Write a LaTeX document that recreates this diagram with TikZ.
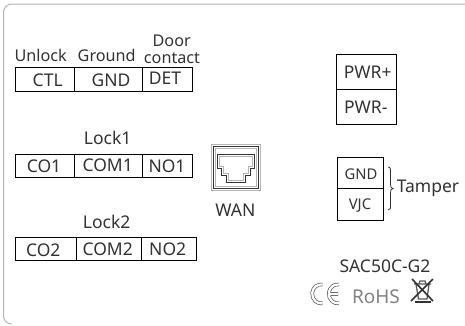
\documentclass[tikz,border=0pt]{standalone}
\usepackage{fontspec}
\setmainfont{Noto Sans}
\definecolor{txt}{HTML}{333333}
\definecolor{frameg}{HTML}{B4B4B4}
\definecolor{logog}{HTML}{5A5A5A}
\tikzset{
  lbl/.style={anchor=base,inner sep=0pt,text=txt,font=\fontsize{17.5}{17.5}\selectfont},
  toplbl/.style={lbl,font=\fontsize{16.2}{16.2}\selectfont},
  smalllbl/.style={lbl,font=\fontsize{14.8}{14.8}\selectfont},
  cell/.style={draw=black,line width=0.8pt},
  jack/.style={draw=#1,line width=0.7pt,line join=miter},
}
\begin{document}
\begin{tikzpicture}[x=1pt,y=-1pt]
\useasboundingbox (0,0) rectangle (465,325);
\fill[white] (0,0) rectangle (465,325);
% outer frame
\draw[frameg,line width=1pt] (465,4) -- (12,4) arc[start angle=-90,end angle=-180,radius=8.5] -- (3.5,316) arc[start angle=180,end angle=90,radius=8];
% terminal rows
\draw[cell] (15.5,67.5) rectangle (74.5,91) (74.5,67.5) rectangle (142.5,91) (142.5,67.5) rectangle (192.5,91);
\draw[cell] (15.5,154) rectangle (74.5,177) (74.5,154) rectangle (142.5,177) (142.5,154) rectangle (192.5,177);
\draw[cell] (15.5,237) rectangle (76.5,260) (76.5,237) rectangle (141.5,260) (141.5,237) rectangle (196.5,260);
\draw[cell] (336.5,54.5) rectangle (396.5,89) (336.5,89) rectangle (396.5,124);
\draw[cell] (337.5,157.5) rectangle (383.5,188) (337.5,188) rectangle (383.5,220);
% labels
\node[toplbl] (unlock) at (40.7,61) {Unlock};
\node[toplbl] (ground) at (106.7,61) {Ground};
\node[toplbl] (door) at (171.7,46) {Door};
\node[toplbl] (contact) at (172,63.3) {contact};
\node[lbl] (ctl) at (47.7,86) {CTL};
\node[lbl] (gnda) at (111,86) {GND};
\node[lbl] (det) at (165,84.3) {DET};
\node[lbl] (lockone) at (107.7,144) {Lock1};
\node[lbl] (coone) at (44,172.7) {CO1};
\node[lbl] (comone) at (107.7,171.7) {COM1};
\node[lbl] (noone) at (167,172) {NO1};
\node[lbl] (locktwo) at (106.7,228.3) {Lock2};
\node[lbl] (cotwo) at (43.3,256.7) {CO2};
\node[lbl] (comtwo) at (107.7,255) {COM2};
\node[lbl] (notwo) at (167.7,255) {NO2};
\node[lbl] (wan) at (235.3,216.7) {WAN};
\node[lbl] (pwrp) at (367.7,78.3) {PWR+};
\node[lbl] (pwrm) at (365.7,113.3) {PWR-};
\node[smalllbl] (gndb) at (361,179.3) {GND};
\node[smalllbl] (vjc) at (360,209) {VJC};
\node[lbl] (tamper) at (428,192.7) {Tamper};
\node[lbl] (model) at (385,272.7) {SAC50C-G2};
% brace
\draw[txt,line width=0.8pt] (388,167) .. controls (391,167) and (390.5,170) .. (390.5,174) -- (390.5,184) .. controls (390.5,187) and (391,188.5) .. (393,188.5) .. controls (391,188.5) and (390.5,190) .. (390.5,193) -- (390.5,204) .. controls (390.5,208) and (391,210) .. (388,210);
% WAN jack
\draw[frameg,line width=1pt] (211.5,144.5) rectangle (260.5,190.5);
\draw[txt,line width=0.7pt] (213.5,146.5) rectangle (258.5,188.5);
\draw[frameg,line width=0.7pt] (215.5,148.5) rectangle (256.5,186.5);
\draw[jack=txt] (217,154) -- (254.5,154) -- (254.5,168) -- (250.5,168) -- (250.5,175) -- (245.5,175) -- (245.5,182.5) -- (226,182.5) -- (226,175) -- (221,175) -- (221,168) -- (217,168) -- cycle;
\draw[jack=frameg] (219,156) -- (252.5,156) -- (252.5,166) -- (248.5,166) -- (248.5,173) -- (243.5,173) -- (243.5,180.5) -- (228,180.5) -- (228,173) -- (223,173) -- (223,166) -- (219,166) -- cycle;
% CE mark
\draw[logog,line width=3.6pt] (322.4,284.5) arc[start angle=-82,end angle=-278,x radius=9,y radius=9.5];
\draw[white,line width=2.2pt] (322.4,284.5) arc[start angle=-82,end angle=-278,x radius=9,y radius=9.5];
\draw[logog,line width=3.6pt] (339,284.5) arc[start angle=-82,end angle=-278,x radius=9,y radius=9.5] (330,294) -- (338,294);
\draw[white,line width=2.2pt] (339,284.5) arc[start angle=-82,end angle=-278,x radius=9,y radius=9.5] (330,294) -- (338,294);
% RoHS
\node[anchor=base,inner sep=0pt,text=logog!75,font=\fontsize{19}{19}\selectfont\bfseries] (rohs) at (376,303) {RoHS};
% WEEE bin
\draw[logog,line width=1.3pt] (414,284) -- (431,284) (416,284) -- (418.5,299) -- (427,299) -- (429,284) (419,284) -- (420,281) -- (425,281) -- (426,284);
\draw[txt,line width=2pt] (414.5,302) -- (431,302);
\draw[txt,line width=1.6pt] (411,301) -- (433,279) (412,279) -- (433,301);
\end{tikzpicture}
\end{document}
